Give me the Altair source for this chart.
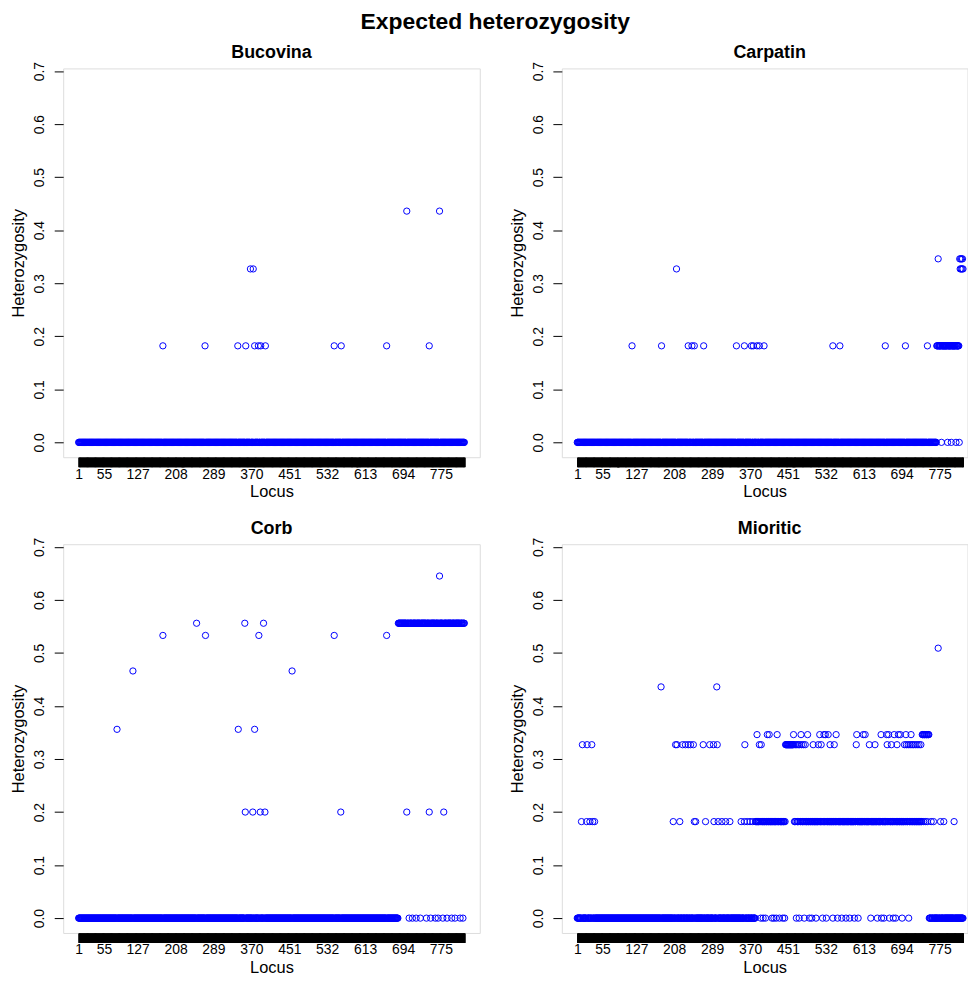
import altair as alt
import pandas as pd

FONT = "Liberation Sans"
N_LOCI = 825

main_title = "Expected heterozygosity"
populations = ["Bucovina", "Carpatin", "Corb", "Mioritic"]
x_tick_labels = [1, 55, 127, 208, 289, 370, 451, 532, 613, 694, 775]
y_ticks = [0.0, 0.1, 0.2, 0.3, 0.4, 0.5, 0.6, 0.7]

# ---- data -----------------------------------------------------------------
# background runs: (first locus, last locus, heterozygosity)
# point overrides: (heterozygosity, [loci])
bucovina_runs = [(1, 825, 0.0)]
bucovina_points = [
    (0.182, [181, 271, 341, 358, 377, 385, 390, 400, 547, 562, 659, 750]),
    (0.327, [368, 374]),
    (0.436, [702, 772]),
]

carpatin_runs = [(1, 768, 0.0), (769, 816, 0.182), (817, 825, 0.0)]
carpatin_points = [
    (0.0, [779, 792, 800, 810]),
    (0.182, [118, 181, 238, 246, 251, 271, 341, 358, 373, 377, 385, 390,
             400, 547, 562, 659, 702, 749]),
    (0.327, [213, 819, 821, 823, 825]),
    (0.346, [772, 818, 820, 822, 824]),
]

corb_runs = [(1, 683, 0.0), (684, 825, 0.556)]
corb_points = [
    (0.0, [707, 714, 722, 731, 744, 753, 763, 769, 779, 788, 798, 805, 816, 822]),
    (0.2, [357, 373, 389, 399, 561, 702, 750, 781]),
    (0.356, [83, 342, 377]),
    (0.466, [117, 457]),
    (0.533, [181, 272, 386, 547, 659]),
    (0.556, [253, 356, 396]),
    (0.645, [772]),
]

mioritic_runs = [(1, 381, 0.0), (382, 445, 0.182), (446, 462, 0.327),
                 (463, 737, 0.182), (738, 752, 0.346), (753, 825, 0.0)]
mioritic_points = [
    (0.0, [393, 398, 403, 417, 421, 426, 433, 440, 444, 469, 475, 486, 497,
           502, 511, 525, 533, 547, 557, 566, 575, 583, 593, 601, 628, 642,
           651, 656, 668, 676, 681, 695, 709]),
    (0.182, [10, 21, 28, 34, 38, 206, 220, 251, 254, 275, 293, 302, 310, 318,
             327, 351, 358, 364, 370, 376, 741, 745, 749, 757, 762, 777, 784, 806]),
    (0.327, [12, 22, 32, 211, 214, 226, 232, 238, 243, 249, 270, 284, 292, 300,
             359, 390, 394, 464, 467, 470, 473, 476, 480, 484, 488, 505, 516,
             522, 541, 550, 597, 625, 637, 663, 672, 684, 700, 704, 708, 712,
             716, 719, 723, 727, 731, 735]),
    (0.346, [385, 407, 411, 428, 463, 479, 493, 519, 528, 531, 537, 554, 598,
             612, 616, 650, 662, 666, 678, 687, 691, 703, 714]),
    (0.436, [180, 299]),
    (0.509, [772]),
]


def expand(runs, points):
    he = {}
    for first, last, v in runs:
        for locus in range(first, last + 1):
            he[locus] = v
    for v, loci in points:
        for locus in loci:
            he[locus] = v
    keys = sorted(he)
    return pd.DataFrame({"Locus": keys, "He": [he[k] for k in keys]})


frames = {
    "Bucovina": expand(bucovina_runs, bucovina_points),
    "Carpatin": expand(carpatin_runs, carpatin_points),
    "Corb": expand(corb_runs, corb_points),
    "Mioritic": expand(mioritic_runs, mioritic_points),
}

label_expr = ("indexof([" + ",".join(str(v) for v in x_tick_labels)
              + "], datum.value) >= 0 ? datum.label : ''")

PX_PER_LOCUS = 419 / 890.0
X_MIN = -32
PANEL_H = 391


def panel(name, width, title_dx):
    x_max = X_MIN + width / PX_PER_LOCUS
    return alt.Chart(
        frames[name],
        title=alt.TitleParams(text=name, fontSize=18, fontWeight="bold", font=FONT,
                              color="black", anchor="middle", offset=-14.5,
                              baseline="alphabetic", dx=title_dx),
    ).mark_point(
        shape="circle", filled=False, color="blue", size=40, strokeWidth=1,
        opacity=1, clip=True,
    ).encode(
        x=alt.X("Locus:Q",
                scale=alt.Scale(domain=[X_MIN, x_max], nice=False, zero=False),
                axis=alt.Axis(values=list(range(1, N_LOCI + 1)), labelExpr=label_expr,
                              labelOverlap=False, labelFlush=False, tickSize=9.5,
                              tickColor="black", tickWidth=2, domain=False, grid=False,
                              labelFontSize=14, labelFont=FONT, labelColor="black",
                              labelPadding=0.5, title="Locus", titleFontSize=16.5,
                              titleFont=FONT, titleFontWeight="normal", titleColor="black",
                              titlePadding=1, minExtent=26, maxExtent=26)),
        y=alt.Y("He:Q",
                scale=alt.Scale(domain=[-0.028, 0.705], nice=False, zero=False),
                axis=alt.Axis(values=y_ticks, format=".1f", labelAngle=270,
                              labelAlign="center", labelBaseline="alphabetic",
                              tickSize=9, tickColor="black", domain=False, grid=False,
                              labelPadding=10.5, labelFontSize=14, labelFont=FONT,
                              labelColor="black", title="Heterozygosity",
                              titleFontSize=16.5, titleFont=FONT, titleFontWeight="normal",
                              titleColor="black", titleBaseline="alphabetic",
                              titlePadding=6.5, minExtent=33, maxExtent=33)),
    ).properties(width=width, height=PANEL_H)


top = alt.hconcat(panel("Bucovina", 419, 0), panel("Carpatin", 408, 5), spacing=28.5)
bottom = alt.hconcat(panel("Corb", 419, 0), panel("Mioritic", 408, 5), spacing=28.5)

chart = alt.vconcat(top, bottom, spacing=17.5).properties(
    title=alt.TitleParams(text=main_title, fontSize=23, fontWeight="bold", font=FONT,
                          color="black", anchor="middle", offset=-8,
                          baseline="alphabetic", dx=6),
    padding={"left": 2.5, "top": -1, "right": 0, "bottom": 0},
).configure_view(stroke="black", strokeWidth=1).configure(background="white")

chart.save("out.html", embed_options={"renderer": "svg", "actions": False})
